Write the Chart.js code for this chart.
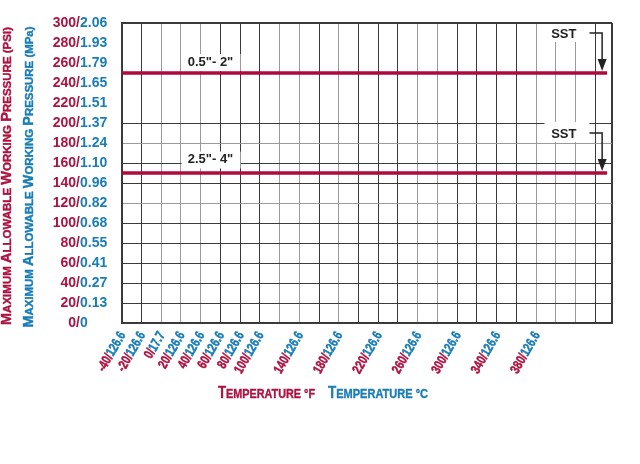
<!DOCTYPE html>
<html>
<head>
<meta charset="utf-8">
<script src="https://cdn.jsdelivr.net/npm/chart.js@4.4.1/dist/chart.umd.min.js"></script>
<style>
  html, body { margin: 0; padding: 0; background: #fff; }
</style>
</head>
<body>
<canvas id="myChart" width="640" height="464"></canvas>
<script>
const ctx = document.getElementById('myChart');

// y axis: pressure in psi and MPa
const psiTicks = [0, 20, 40, 60, 80, 100, 120, 140, 160, 180, 200, 220, 240, 260, 280, 300];
const mpaTicks = ['0', '0.13', '0.27', '0.41', '0.55', '0.68', '0.82', '0.96', '1.10', '1.24', '1.37', '1.51', '1.65', '1.79', '1.93', '2.06'];

// x axis: temperature labels (F / C as printed)
const tempF = [-40, -20, 0, 20, 40, 60, 80, 100, 140, 180, 220, 260, 300, 340, 380];
const tempC = ['126.6', '126.6', '17.7', '126.6', '126.6', '126.6', '126.6', '126.6', '126.6', '126.6', '126.6', '126.6', '126.6', '126.6', '126.6'];

// the two pressure ratings
const sizeLabels = ['0.5"- 2"', '2.5"- 4"'];
const ratingX = [-40, 452];
const rating1 = [250, 250];
const rating2 = [150, 150];

// annotation anchors (in data units)
const sizeLabelF = 50;
const sizeLabelPsi = [261, 163.5];
const sstText = 'SST';
const sstTextF = 421;
const sstTextPsi = [289, 189];
const sstArrowF = 447;

const crimson = '#AE1240';
const blue = '#1A7DB5';
const lineRed = '#B0093C';
const dark = '#3a3a3a';
const light = '#9a9a9a';
const fam = '"Liberation Sans", Arial, sans-serif';

// shade of each vertical grid line, from -40F upward
const xShade = 'DDGGGDDDGGDGDDDGGDDDDGGGDD';
// shade of horizontal grid lines by psi
const yShade = {0: 'D', 20: 'D', 40: 'D', 60: 'D', 80: 'D', 100: 'D', 120: 'G', 140: 'D', 160: 'D', 180: 'G', 200: 'D', 300: 'D'};

function capsParts(text) {
    const parts = [];
    text.split(' ').forEach((w, wi) => {
        if (wi > 0) parts.push({t: ' ', big: false});
        if (w.startsWith('(') || w.startsWith('°')) {
            parts.push({t: w, big: false});
            return;
        }
        parts.push({t: w[0], big: true});
        if (w.length > 1) parts.push({t: w.slice(1).toUpperCase(), big: false});
    });
    return parts;
}

function drawCaps(c, text, x, y, angle, length, color, bigPx, smallPx) {
    const parts = capsParts(text);
    const fontOf = p => `bold ${p.big ? bigPx : smallPx}px ${fam}`;
    let total = 0;
    parts.forEach(p => {
        c.font = fontOf(p);
        p.w = c.measureText(p.t).width;
        total += p.w;
    });
    c.save();
    c.translate(x, y);
    c.rotate(angle);
    c.scale(length / total, 1);
    c.fillStyle = color;
    c.strokeStyle = color;
    c.lineWidth = 0.4;
    c.textAlign = 'left';
    c.textBaseline = 'alphabetic';
    let cx = -total / 2;
    parts.forEach(p => {
        c.font = fontOf(p);
        c.fillText(p.t, cx, 0);
        c.strokeText(p.t, cx, 0);
        cx += p.w;
    });
    c.restore();
}

const extras = {
    id: 'extras',
    afterDatasetsDraw(chart) {
        const c = chart.ctx;
        const xs = chart.scales.x;
        const ys = chart.scales.y;
        const area = chart.chartArea;

        // rotated two colour temperature labels
        c.save();
        c.font = `bold 13.5px ${fam}`;
        c.lineWidth = 0.5;
        tempF.forEach((f, i) => {
            const px = xs.getPixelForValue(f);
            c.save();
            c.translate(px + 1, area.bottom + 10);
            c.rotate(-Math.PI / 3);
            c.scale(0.76, 1);
            c.textAlign = 'right';
            c.textBaseline = 'middle';
            const wC = c.measureText(tempC[i]).width;
            c.fillStyle = blue;
            c.strokeStyle = blue;
            c.fillText(tempC[i], 0, 0);
            c.strokeText(tempC[i], 0, 0);
            c.fillStyle = crimson;
            c.strokeStyle = crimson;
            c.fillText(f + '/', -wC, 0);
            c.strokeText(f + '/', -wC, 0);
            c.restore();
        });
        c.restore();

        // size labels on white boxes
        c.save();
        c.font = `bold 13px ${fam}`;
        c.textAlign = 'center';
        c.textBaseline = 'middle';
        sizeLabels.forEach((t, i) => {
            const px = xs.getPixelForValue(sizeLabelF);
            const py = ys.getPixelForValue(sizeLabelPsi[i]);
            c.fillStyle = '#fff';
            c.fillRect(px - 29, py - 8, 59, 17);
            c.fillStyle = '#222';
            c.fillText(t, px, py);
        });
        c.restore();

        // SST labels with bracket arrows
        c.save();
        c.font = `bold 13px ${fam}`;
        c.textAlign = 'right';
        c.textBaseline = 'middle';
        const tx = xs.getPixelForValue(sstTextF);
        const ax = xs.getPixelForValue(sstArrowF);
        sstTextPsi.forEach((v, i) => {
            const py = ys.getPixelForValue(v);
            const tip = ys.getPixelForValue(i === 0 ? rating1[0] : rating2[0]) - 2;
            const top = Math.max(py - 12, area.top + 1);
            c.fillStyle = '#fff';
            c.fillRect(tx - 32, top, 45, py + 8 - top);
            c.fillStyle = '#222';
            c.fillText(sstText, tx, py);
            c.strokeStyle = '#222';
            c.lineWidth = 1.5;
            c.beginPath();
            c.moveTo(tx + 13, py - 1);
            c.lineTo(ax, py - 1);
            c.lineTo(ax, tip - 10);
            c.stroke();
            c.beginPath();
            c.moveTo(ax - 4.5, tip - 12);
            c.lineTo(ax + 4.5, tip - 12);
            c.lineTo(ax, tip);
            c.closePath();
            c.fill();
        });
        c.restore();

        // axis titles in small caps
        drawCaps(c, 'Maximum Allowable Working Pressure (PSI)', 11, 176, -Math.PI / 2, 298, crimson, 14.5, 11.5);
        drawCaps(c, 'Maximum Allowable Working Pressure (MPa)', 33, 177, -Math.PI / 2, 301, blue, 14.5, 11.5);
        drawCaps(c, 'Temperature °F', 266.5, 398, 0, 97, crimson, 16.5, 13.5);
        drawCaps(c, 'Temperature °C', 378, 398, 0, 100, blue, 16.5, 13.5);
    }
};

new Chart(ctx, {
    type: 'line',
    data: {
        datasets: [
            {
                data: ratingX.map((x, i) => ({x: x, y: rating1[i]})),
                borderColor: lineRed,
                borderWidth: 3.5,
                borderCapStyle: 'butt',
                pointRadius: 0
            },
            {
                data: ratingX.map((x, i) => ({x: x, y: rating2[i]})),
                borderColor: lineRed,
                borderWidth: 3.5,
                borderCapStyle: 'butt',
                pointRadius: 0
            }
        ]
    },
    options: {
        responsive: false,
        animation: false,
        devicePixelRatio: 1,
        layout: {padding: {top: 23, right: 28, left: 0, bottom: 0}},
        plugins: {
            legend: {display: false},
            tooltip: {enabled: false}
        },
        scales: {
            x: {
                type: 'linear',
                min: -40,
                max: 457,
                afterBuildTicks: s => {
                    const t = [];
                    for (let v = -40; v <= 440; v += 20) t.push({value: v});
                    t.push({value: 457});
                    s.ticks = t;
                },
                afterFit: s => { s.height = 141; },
                ticks: {display: false},
                grid: {
                    drawTicks: false,
                    color: c => xShade[c.index] === 'G' ? light : dark,
                    lineWidth: c => c.index === 25 ? 2 : 1
                },
                border: {display: true, color: dark, width: 2}
            },
            y: {
                position: 'left',
                weight: 0,
                min: 0,
                max: 300,
                afterFit: s => { s.width = 41.7; },
                ticks: {
                    stepSize: 20,
                    autoSkip: false,
                    padding: 0,
                    crossAlign: 'far',
                    color: blue,
                    font: {family: fam, size: 14, weight: 'bold'},
                    callback: v => mpaTicks[psiTicks.indexOf(v)]
                },
                grid: {
                    drawTicks: false,
                    color: c => {
                        const s = yShade[c.tick.value];
                        if (!s) return 'rgba(0,0,0,0)';
                        return s === 'G' ? light : dark;
                    },
                    lineWidth: c => c.tick.value === 300 ? 2 : 1
                },
                border: {display: true, color: dark, width: 2}
            },
            yPsi: {
                position: 'left',
                weight: 1,
                min: 0,
                max: 300,
                afterFit: s => { s.width = 80; },
                ticks: {
                    stepSize: 20,
                    autoSkip: false,
                    padding: 0,
                    crossAlign: 'near',
                    color: crimson,
                    font: {family: fam, size: 14, weight: 'bold'},
                    callback: v => v + '/'
                },
                grid: {display: false, drawTicks: false},
                border: {display: false}
            }
        }
    },
    plugins: [extras]
});
</script>
</body>
</html>
